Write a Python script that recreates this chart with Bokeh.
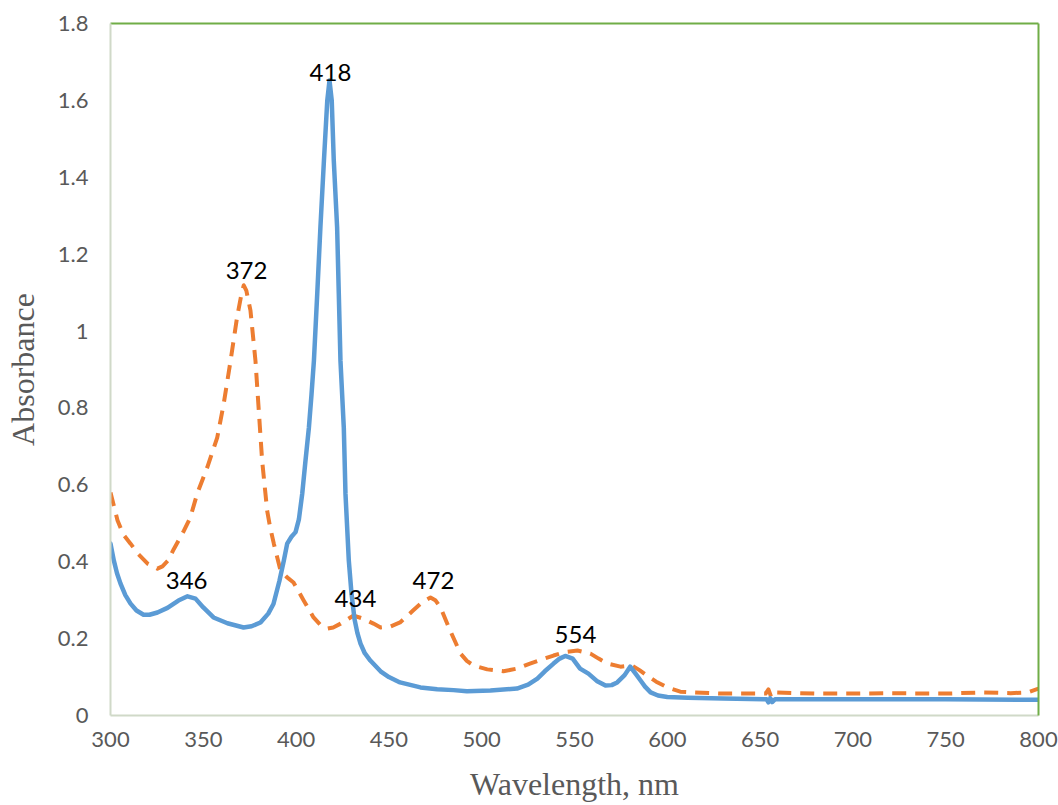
from bokeh.plotting import figure
from bokeh.models import ColumnDataSource, LinearAxis, FixedTicker, Range1d
from bokeh.core.properties import value
from bokeh.embed import file_html
from bokeh.resources import INLINE

# ---- data ----
blue_x = [300, 301.8, 303.5, 305.4, 308, 310.8, 314, 317.8, 321, 325.3, 330.7, 336.6, 341.5, 345.8,
          350, 355.5, 363, 371.7, 376, 380.8, 385, 387.8, 391, 393.4, 395.2, 397.5, 399.7, 401.5,
          403.3, 405, 406.9, 408.3, 409.6, 411.4, 413.1, 415, 416.8, 418, 419.2, 420.3, 422.1, 423,
          423.9, 425.7, 426.6, 428.4, 429.8, 431.5, 433, 434.7, 437, 440, 445.5, 450, 456, 467, 476,
          484.8, 492, 504.7, 519, 525, 530, 534, 538.7, 542, 545, 549, 553, 557.5, 562, 566.7, 570,
          573, 577, 580, 583, 585.6, 588, 591, 595, 600, 611, 630, 653.5, 654.5, 655.5, 656.5, 658,
          700, 750, 800]
blue_y = [0.447, 0.403, 0.37, 0.343, 0.313, 0.291, 0.273, 0.262, 0.262, 0.268, 0.280, 0.299, 0.310,
          0.304, 0.281, 0.255, 0.240, 0.229, 0.232, 0.242, 0.265, 0.290, 0.350, 0.403, 0.447, 0.465,
          0.477, 0.51, 0.577, 0.66, 0.749, 0.835, 0.923, 1.098, 1.270, 1.444, 1.60, 1.652, 1.60,
          1.444, 1.270, 1.098, 0.923, 0.749, 0.577, 0.403, 0.32, 0.25, 0.215, 0.187, 0.162, 0.143,
          0.115, 0.100, 0.086, 0.073, 0.068, 0.066, 0.063, 0.065, 0.070, 0.080, 0.096, 0.115, 0.135,
          0.148, 0.155, 0.148, 0.122, 0.109, 0.090, 0.078, 0.079, 0.086, 0.105, 0.127, 0.108, 0.091,
          0.075, 0.060, 0.052, 0.048, 0.046, 0.044, 0.042, 0.034, 0.045, 0.035, 0.042, 0.042, 0.042,
          0.041]

orange_x = [300, 303.8, 307, 310.8, 315, 320, 325.3, 328, 331, 334, 339.5, 343, 346.7, 352.1, 357.5,
            361, 364.7, 368.2, 370.5, 371.8, 373.2, 375.4, 378.1, 379.9, 381.7, 384.4, 386, 388,
            391.6, 395, 398.6, 404, 409.4, 413, 417, 420, 424, 431, 436, 441.7, 445.5, 451, 456, 463,
            468, 472.4, 475, 477.8, 483, 488.6, 492, 495.6, 503, 511.7, 519, 526, 532, 538.7, 545,
            551.6, 558.6, 563, 567.8, 574.8, 581, 585, 589, 594, 600, 607, 615, 630, 653, 654.5, 656,
            658, 680, 700, 720, 750, 770, 785, 794, 800]
orange_y = [0.58, 0.507, 0.47, 0.447, 0.42, 0.395, 0.382, 0.388, 0.403, 0.432, 0.480, 0.515, 0.577,
            0.645, 0.723, 0.811, 0.923, 1.036, 1.095, 1.119, 1.105, 1.054, 0.923, 0.793, 0.663, 0.533,
            0.490, 0.447, 0.377, 0.36, 0.346, 0.30, 0.255, 0.236, 0.226, 0.229, 0.239, 0.260, 0.252,
            0.239, 0.229, 0.232, 0.242, 0.273, 0.295, 0.307, 0.300, 0.281, 0.221, 0.161, 0.142, 0.130,
            0.120, 0.115, 0.122, 0.135, 0.145, 0.156, 0.165, 0.169, 0.161, 0.148, 0.135, 0.127, 0.130,
            0.118, 0.104, 0.088, 0.073, 0.062, 0.060, 0.057, 0.057, 0.068, 0.048, 0.060, 0.057, 0.057,
            0.058, 0.057, 0.060, 0.058, 0.060, 0.070]

label_text = ["418", "372", "346", "434", "472", "554"]
label_x = [418.5, 373.3, 341, 432, 474, 550.5]
label_y = [1.652, 1.137, 0.330, 0.284, 0.330, 0.190]

x_ticks = [300, 350, 400, 450, 500, 550, 600, 650, 700, 750, 800]
y_ticks = [0, 0.2, 0.4, 0.6, 0.8, 1.0, 1.2, 1.4, 1.6, 1.8]
y_tick_labels = {0: "0", 0.2: "0.2", 0.4: "0.4", 0.6: "0.6", 0.8: "0.8", 1.0: "1",
                 1.2: "1.2", 1.4: "1.4", 1.6: "1.6", 1.8: "1.8"}

# ---- figure ----
p = figure(width=1058, height=805, output_backend="svg", toolbar_location=None,
           x_range=Range1d(300, 800), y_range=Range1d(0, 1.8),
           min_border_left=110, min_border_right=20, min_border_top=23, min_border_bottom=90)
p.outline_line_color = None
p.grid.visible = False
p.background_fill_color = "white"
p.border_fill_color = "white"

tick_font = "Lato"
tick_color = "#595959"
axis_line_color = "#d0d9c8"

xa = p.xaxis[0]
xa.ticker = FixedTicker(ticks=x_ticks)
xa.axis_label = "Wavelength, nm"
ya = p.yaxis[0]
ya.ticker = FixedTicker(ticks=y_ticks)
ya.major_label_overrides = y_tick_labels
ya.axis_label = "Absorbance"

for ax in (xa, ya):
    ax.major_tick_out = 0
    ax.major_tick_in = 0
    ax.minor_tick_out = 0
    ax.minor_tick_in = 0
    ax.axis_line_color = axis_line_color
    ax.axis_line_width = 2
    ax.major_label_text_font = tick_font
    ax.major_label_text_font_size = "22px"
    ax.major_label_text_color = tick_color
    ax.axis_label_text_font = "Liberation Serif"
    ax.axis_label_text_font_size = "32px"
    ax.axis_label_text_font_style = "normal"
    ax.axis_label_text_color = tick_color
xa.major_label_standoff = 16
xa.axis_label_standoff = 16
ya.major_label_standoff = 22
ya.axis_label_standoff = 14

# green frame on top and right
for side in ("above", "right"):
    ax = LinearAxis(ticker=FixedTicker(ticks=[]), major_tick_out=0, major_tick_in=0,
                    minor_tick_out=0, minor_tick_in=0, axis_line_color="#70ad47",
                    axis_line_width=2, major_label_text_font_size="0px")
    p.add_layout(ax, side)

src_b = ColumnDataSource(dict(x=blue_x, y=blue_y))
src_o = ColumnDataSource(dict(x=orange_x, y=orange_y))
p.line("x", "y", source=src_o, line_color="#ed7d31", line_width=4, line_dash="14 9",
       line_join="round")
p.line("x", "y", source=src_b, line_color="#5b9bd5", line_width=4.5, line_join="round",
       line_cap="round")

src_l = ColumnDataSource(dict(x=label_x, y=label_y, t=label_text))
p.text("x", "y", text="t", source=src_l, text_font=value("Lato"), text_font_size="24px",
       text_color="black", text_align="center", text_baseline="alphabetic", y_offset=-8)

open("out.html", "w").write(file_html(p, INLINE))
